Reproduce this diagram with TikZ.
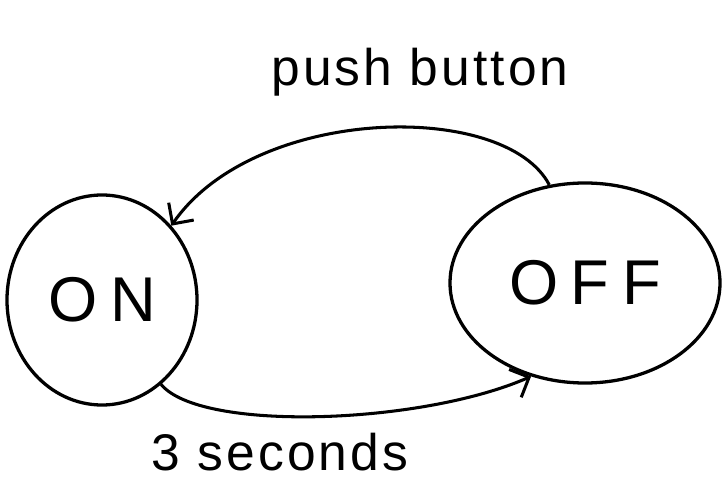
\documentclass[tikz,border=0pt]{standalone}
\usepackage{fontspec}
\setmainfont{Liberation Sans}
\usetikzlibrary{shapes.geometric,arrows.meta}
\begin{document}
\begin{tikzpicture}[x=0.03cm,y=-0.03cm,
  state/.style={draw,ellipse,line width=2.8pt,inner sep=0pt,font=\fontsize{54}{58}\selectfont\addfontfeatures{LetterSpace=20}},
  link/.style={line width=2.6pt,-{Straight Barb[length=13pt,width=26pt,line width=2.6pt]}},
  lbl/.style={font=\fontsize{44}{48}\selectfont\addfontfeatures{LetterSpace=6}}]
\useasboundingbox[fill=white] (0,0) rectangle (723,488);
\node[state,minimum width=5.7cm,minimum height=6.3cm] (on) at (102,300) {ON};
\node[state,minimum width=8.1cm,minimum height=6cm] (off) at (585,283) {OFF};
\draw[link] (off.110) .. controls (505,100) and (255,105) .. (on.47);
\draw[link] (on.-55) .. controls (200,432) and (420,425) .. (off.-120);
\node[lbl] (pb) at (420,72) {push button};
\node[lbl] (ts) at (280,452) {3 seconds};
\end{tikzpicture}
\end{document}
